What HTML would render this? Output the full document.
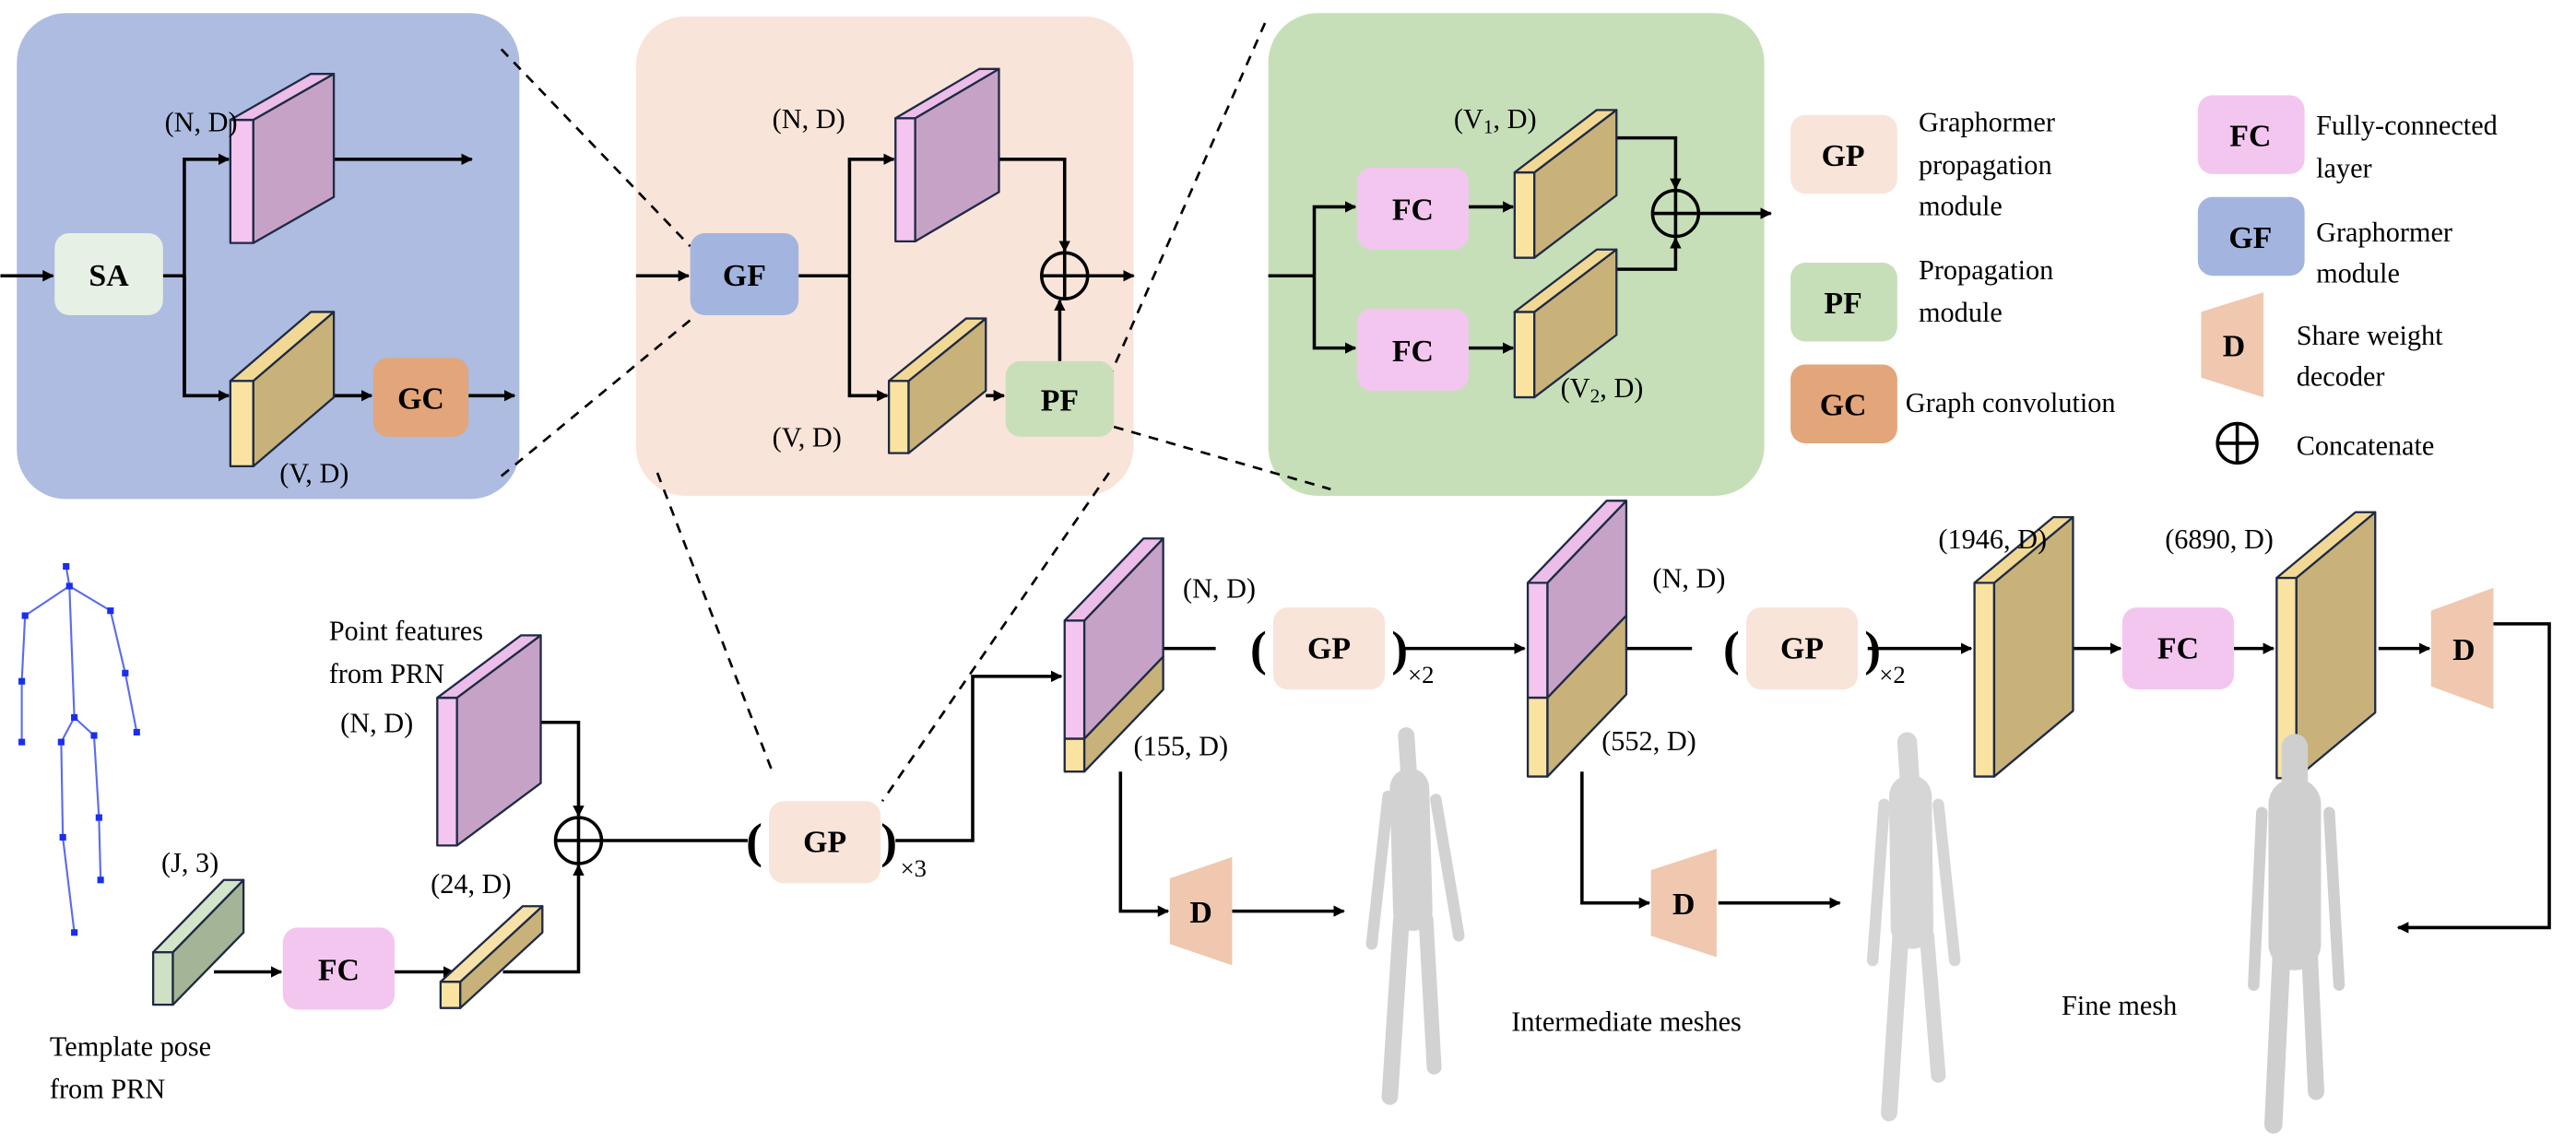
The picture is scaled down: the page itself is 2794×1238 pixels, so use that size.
<!DOCTYPE html>
<html><head><meta charset="utf-8"><style>html,body{margin:0;padding:0;background:#fff}svg{display:block}svg,text,tspan{font-family:"Liberation Serif","Times New Roman",Times,"DejaVu Serif","Noto Serif CJK SC",serif !important}</style></head>
<body>
<svg width="2794" height="1238" viewBox="0 0 1568 695" xmlns="http://www.w3.org/2000/svg">
<defs>
<marker id="a" viewBox="0 0 10 10" refX="9" refY="5" markerWidth="7" markerHeight="7" markerUnits="userSpaceOnUse" orient="auto"><path d="M0,0L10,5L0,10z" fill="#000"/></marker>
</defs>
<rect x="10" y="8" width="306" height="296" rx="30" fill="#adbce0"/>
<rect x="387" y="10" width="303" height="292" rx="30" fill="#f9e4d9"/>
<rect x="772" y="8" width="302" height="294" rx="30" fill="#c6dfb9"/>
<g stroke="#000" stroke-width="1.5" stroke-dasharray="6,5" fill="none">
<line x1="305" y1="30" x2="420" y2="150"/>
<line x1="305" y1="290" x2="420" y2="195"/>
<line x1="400" y1="288" x2="470" y2="470"/>
<line x1="675" y1="288" x2="537" y2="488"/>
<line x1="770" y1="14" x2="676" y2="228"/>
<line x1="678" y1="260" x2="810" y2="298"/>
</g>
<g stroke="#000" stroke-width="2" fill="none">
<line x1="0" y1="168" x2="32" y2="168" marker-end="url(#a)"/>
<polyline points="99,168 112,168"/>
<polyline points="112,241 112,97 139,97" marker-end="url(#a)"/>
<polyline points="112,168 112,241 139,241" marker-end="url(#a)"/>
<line x1="203" y1="97" x2="287" y2="97" marker-end="url(#a)"/>
<line x1="203" y1="241" x2="226" y2="241" marker-end="url(#a)"/>
<line x1="285" y1="241" x2="313" y2="241" marker-end="url(#a)"/>
<line x1="387" y1="168" x2="419" y2="168" marker-end="url(#a)"/>
<line x1="486" y1="168" x2="517" y2="168"/>
<polyline points="517,168 517,97 544,97" marker-end="url(#a)"/>
<polyline points="517,168 517,241 540,241" marker-end="url(#a)"/>
<polyline points="608,97 648,97 648,153" marker-end="url(#a)"/>
<line x1="662" y1="168" x2="690" y2="168" marker-end="url(#a)"/>
<line x1="600" y1="241" x2="611" y2="241" marker-end="url(#a)"/>
<line x1="645" y1="220" x2="645" y2="183" marker-end="url(#a)"/>
<line x1="772" y1="168" x2="800" y2="168"/>
<polyline points="800,168 800,126 825,126" marker-end="url(#a)"/>
<polyline points="800,168 800,212 825,212" marker-end="url(#a)"/>
<line x1="894" y1="126" x2="921" y2="126" marker-end="url(#a)"/>
<line x1="894" y1="212" x2="921" y2="212" marker-end="url(#a)"/>
<polyline points="984,84 1020,84 1020,115" marker-end="url(#a)"/>
<polyline points="984,164 1020,164 1020,145" marker-end="url(#a)"/>
<line x1="1034" y1="130" x2="1078" y2="130" marker-end="url(#a)"/>
<line x1="130" y1="592" x2="171" y2="592" marker-end="url(#a)"/>
<line x1="240" y1="592" x2="276" y2="592" marker-end="url(#a)"/>
<polyline points="306,592 352,592 352,527" marker-end="url(#a)"/>
<polyline points="329,440 352,440 352,497" marker-end="url(#a)"/>
<line x1="366" y1="512" x2="455" y2="512"/>
<polyline points="545,512 592,512 592,412 646,412" marker-end="url(#a)"/>
<line x1="708" y1="395" x2="740" y2="395"/>
<line x1="852" y1="395" x2="928" y2="395" marker-end="url(#a)"/>
<line x1="990" y1="395" x2="1030" y2="395"/>
<line x1="1137" y1="395" x2="1200" y2="395" marker-end="url(#a)"/>
<line x1="1262" y1="395" x2="1291" y2="395" marker-end="url(#a)"/>
<line x1="1360" y1="395" x2="1384" y2="395" marker-end="url(#a)"/>
<line x1="1448" y1="395" x2="1479" y2="395" marker-end="url(#a)"/>
<polyline points="1518,380 1552,380 1552,565 1460,565" marker-end="url(#a)"/>
<polyline points="682,470 682,555 711,555" marker-end="url(#a)"/>
<line x1="750" y1="555" x2="818" y2="555" marker-end="url(#a)"/>
<polyline points="963,470 963,550 1004,550" marker-end="url(#a)"/>
<line x1="1046" y1="550" x2="1120" y2="550" marker-end="url(#a)"/>
</g>
<g stroke="#000" stroke-width="2" fill="none">
<circle cx="648" cy="168" r="14"/><line x1="634" y1="168" x2="662" y2="168"/><line x1="648" y1="154" x2="648" y2="182"/>
<circle cx="1020" cy="130" r="14"/><line x1="1006" y1="130" x2="1034" y2="130"/><line x1="1020" y1="116" x2="1020" y2="144"/>
<circle cx="352" cy="512" r="14"/><line x1="338" y1="512" x2="366" y2="512"/><line x1="352" y1="498" x2="352" y2="526"/>
<circle cx="1362" cy="270" r="12"/><line x1="1350" y1="270" x2="1374" y2="270"/><line x1="1362" y1="258" x2="1362" y2="282"/>
</g>
<g font-weight="bold" font-size="19" text-anchor="middle">
<rect x="33" y="142" width="66" height="50" rx="9" fill="#e6f0e4"/><text x="66" y="174">SA</text>
<rect x="227" y="218" width="58" height="48" rx="9" fill="#e3a57a"/><text x="256" y="249">GC</text>
<rect x="420" y="142" width="66" height="50" rx="9" fill="#a3b4df"/><text x="453" y="174">GF</text>
<rect x="612" y="220" width="66" height="46" rx="9" fill="#c9dfba"/><text x="645" y="250">PF</text>
<rect x="826" y="102" width="68" height="50" rx="9" fill="#f3c6ef"/><text x="860" y="134">FC</text>
<rect x="826" y="188" width="68" height="50" rx="9" fill="#f3c6ef"/><text x="860" y="220">FC</text>
<rect x="1090" y="70" width="65" height="48" rx="9" fill="#f9e4d9"/><text x="1122" y="101">GP</text>
<rect x="1090" y="160" width="65" height="48" rx="9" fill="#c6dfb9"/><text x="1122" y="191">PF</text>
<rect x="1090" y="222" width="65" height="48" rx="9" fill="#e3a57a"/><text x="1122" y="253">GC</text>
<rect x="1338" y="58" width="65" height="48" rx="9" fill="#f3c6ef"/><text x="1370" y="89">FC</text>
<rect x="1338" y="120" width="65" height="48" rx="9" fill="#a3b4df"/><text x="1370" y="151">GF</text>
<polygon points="1340,190 1378,178 1378,242 1340,230" fill="#efc8af"/><text x="1360" y="217">D</text>
<rect x="172" y="565" width="68" height="50" rx="9" fill="#f3c6ef"/><text x="206" y="597">FC</text>
<rect x="468" y="488" width="68" height="50" rx="9" fill="#f9e4d9"/><text x="502" y="519">GP</text>
<rect x="775" y="370" width="68" height="50" rx="9" fill="#f9e4d9"/><text x="809" y="401">GP</text>
<rect x="1063" y="370" width="68" height="50" rx="9" fill="#f9e4d9"/><text x="1097" y="401">GP</text>
<rect x="1292" y="370" width="68" height="50" rx="9" fill="#f3c6ef"/><text x="1326" y="401">FC</text>
<polygon points="1480,372 1518,358 1518,432 1480,418" fill="#efc8af"/><text x="1500" y="402">D</text>
<polygon points="712,535 750,522 750,588 712,575" fill="#efc8af"/><text x="731" y="562">D</text>
<polygon points="1005,530 1045,517 1045,583 1005,570" fill="#efc8af"/><text x="1025" y="557">D</text>
</g>
<g font-size="30" font-weight="bold" text-anchor="middle">
<text x="459" y="522">(</text><text x="541" y="522">)</text>
<text x="766" y="405">(</text><text x="852" y="405">)</text>
<text x="1054" y="405">(</text><text x="1140" y="405">)</text>
</g>
<g stroke="#1f2a44" stroke-width="1.3" stroke-linejoin="round">
<rect x="140" y="73" width="14" height="75" fill="#f3c5ef"/><polygon points="154,73 203,45 203,120 154,148" fill="#c6a2c6"/><polygon points="140,73 189,45 203,45 154,73" fill="#ebbde8"/>
<rect x="140" y="232" width="14" height="52" fill="#fae3a0"/><polygon points="154,232 203,190 203,242 154,284" fill="#c8b27a"/><polygon points="140,232 189,190 203,190 154,232" fill="#f1d995"/>
<rect x="545" y="72" width="12" height="75" fill="#f3c5ef"/><polygon points="557,72 608,42 608,117 557,147" fill="#c6a2c6"/><polygon points="545,72 596,42 608,42 557,72" fill="#ebbde8"/>
<rect x="541" y="232" width="12" height="44" fill="#fae3a0"/><polygon points="553,232 600,194 600,238 553,276" fill="#c8b27a"/><polygon points="541,232 588,194 600,194 553,232" fill="#f1d995"/>
<rect x="922" y="105" width="12" height="52" fill="#fae3a0"/><polygon points="934,105 984,67 984,119 934,157" fill="#c8b27a"/><polygon points="922,105 972,67 984,67 934,105" fill="#f1d995"/>
<rect x="922" y="190" width="12" height="52" fill="#fae3a0"/><polygon points="934,190 984,152 984,204 934,242" fill="#c8b27a"/><polygon points="922,190 972,152 984,152 934,190" fill="#f1d995"/>
<rect x="266" y="425" width="12" height="90" fill="#f3c5ef"/><polygon points="278,425 329,387 329,477 278,515" fill="#c6a2c6"/><polygon points="266,425 317,387 329,387 278,425" fill="#ebbde8"/>
<rect x="93" y="580" width="12" height="32" fill="#cfe0c4"/><polygon points="105,580 148,536 148,568 105,612" fill="#a3b596"/><polygon points="93,580 136,536 148,536 105,580" fill="#d4e4c8"/>
<rect x="268" y="598" width="12" height="16" fill="#fae3a0"/><polygon points="280,598 330,552 330,568 280,614" fill="#c8b27a"/><polygon points="268,598 318,552 330,552 280,598" fill="#f6e1a8"/>
<rect x="648" y="378" width="12" height="72" fill="#f3c5ef"/><rect x="648" y="450" width="12" height="20" fill="#fae3a0"/>
<polygon points="660,378 708,328 708,400 660,450" fill="#c6a2c6"/><polygon points="660,450 708,400 708,420 660,470" fill="#c8b27a"/><polygon points="648,378 696,328 708,328 660,378" fill="#ebbde8"/>
<rect x="930" y="355" width="12" height="70" fill="#f3c5ef"/><rect x="930" y="425" width="12" height="48" fill="#fae3a0"/>
<polygon points="942,355 990,305 990,375 942,425" fill="#c6a2c6"/><polygon points="942,425 990,375 990,423 942,473" fill="#c8b27a"/><polygon points="930,355 978,305 990,305 942,355" fill="#ebbde8"/>
<rect x="1202" y="355" width="12" height="118" fill="#fae3a0"/><polygon points="1214,355 1262,315 1262,433 1214,473" fill="#c8b27a"/><polygon points="1202,355 1250,315 1262,315 1214,355" fill="#f1d995"/>
<rect x="1386" y="352" width="12" height="122" fill="#fae3a0"/><polygon points="1398,352 1446,312 1446,434 1398,474" fill="#c8b27a"/><polygon points="1386,352 1434,312 1446,312 1398,352" fill="#f1d995"/>
</g>
<g stroke="#5a6cf0" stroke-width="1.2" fill="none">
<polyline points="40,345 42,357 45,437"/>
<polyline points="15,375 42,357 67,372"/>
<polyline points="15,375 13,415 13,452"/>
<polyline points="67,372 76,410 83,446"/>
<polyline points="37,452 45,437 57,448"/>
<polyline points="37,452 38,510 45,568"/>
<polyline points="57,448 60,498 61,536"/>
</g>
<g fill="#1a2ef0">
<rect x="38" y="343" width="4" height="4"/><rect x="40" y="355" width="4" height="4"/><rect x="13" y="373" width="4" height="4"/><rect x="65" y="370" width="4" height="4"/><rect x="11" y="413" width="4" height="4"/><rect x="11" y="450" width="4" height="4"/><rect x="74" y="408" width="4" height="4"/><rect x="81" y="444" width="4" height="4"/><rect x="43" y="435" width="4" height="4"/><rect x="35" y="450" width="4" height="4"/><rect x="55" y="446" width="4" height="4"/><rect x="36" y="508" width="4" height="4"/><rect x="43" y="566" width="4" height="4"/><rect x="58" y="496" width="4" height="4"/><rect x="59" y="534" width="4" height="4"/>
</g>
<g stroke-linecap="round" stroke-linejoin="round" fill="none">
<g stroke="#d2d2d2">
<line x1="858" y1="480" x2="860" y2="555" stroke-width="24"/>
<line x1="845" y1="485" x2="835" y2="575" stroke-width="7"/>
<line x1="874" y1="487" x2="888" y2="570" stroke-width="7"/>
<line x1="853" y1="560" x2="846" y2="668" stroke-width="10"/>
<line x1="868" y1="560" x2="873" y2="650" stroke-width="9"/>
<line x1="856" y1="448" x2="858" y2="478" stroke-width="10"/>
</g>
<g stroke="#d6d6d6">
<line x1="1163" y1="485" x2="1164" y2="565" stroke-width="26"/>
<line x1="1147" y1="490" x2="1140" y2="585" stroke-width="7"/>
<line x1="1180" y1="490" x2="1190" y2="585" stroke-width="7"/>
<line x1="1157" y1="570" x2="1150" y2="678" stroke-width="10"/>
<line x1="1173" y1="570" x2="1180" y2="655" stroke-width="9"/>
<line x1="1161" y1="452" x2="1163" y2="482" stroke-width="12"/>
</g>
<g stroke="#cfcfcf">
<line x1="1397" y1="490" x2="1397" y2="575" stroke-width="32"/>
<line x1="1377" y1="495" x2="1372" y2="600" stroke-width="7"/>
<line x1="1418" y1="495" x2="1424" y2="600" stroke-width="7"/>
<line x1="1389" y1="580" x2="1384" y2="685" stroke-width="11"/>
<line x1="1406" y1="580" x2="1410" y2="665" stroke-width="10"/>
<line x1="1397" y1="455" x2="1397" y2="478" stroke-width="16"/>
</g>
</g>
<g font-size="17">
<text x="100" y="80">(N, D)</text>
<text x="170" y="294">(V, D)</text>
<text x="470" y="78">(N, D)</text>
<text x="470" y="272">(V, D)</text>
<text x="885" y="78">(V<tspan font-size="12" dy="3">1</tspan><tspan dy="-3">, D)</tspan></text>
<text x="950" y="242">(V<tspan font-size="12" dy="3">2</tspan><tspan dy="-3">, D)</tspan></text>
<text x="1168" y="80">Graphormer</text><text x="1168" y="106">propagation</text><text x="1168" y="131">module</text>
<text x="1168" y="170">Propagation</text><text x="1168" y="196">module</text>
<text x="1160" y="251">Graph convolution</text>
<text x="1410" y="82">Fully-connected</text><text x="1410" y="108">layer</text>
<text x="1410" y="147">Graphormer</text><text x="1410" y="172">module</text>
<text x="1398" y="210">Share weight</text><text x="1398" y="235">decoder</text>
<text x="1398" y="277">Concatenate</text>
<text x="200" y="390">Point features</text><text x="200" y="416">from PRN</text>
<text x="207" y="446">(N, D)</text>
<text x="98" y="531">(J, 3)</text>
<text x="262" y="544">(24, D)</text>
<text x="30" y="643">Template pose</text><text x="30" y="669">from PRN</text>
<text x="720" y="364">(N, D)</text>
<text x="690" y="460">(155, D)</text>
<text x="1006" y="358">(N, D)</text>
<text x="975" y="457">(552, D)</text>
<text x="1180" y="334">(1946, D)</text>
<text x="1318" y="334">(6890, D)</text>
<text x="920" y="628">Intermediate meshes</text>
<text x="1255" y="618">Fine mesh</text>
<text x="548" y="534" font-size="15">×3</text>
<text x="857" y="416" font-size="15">×2</text>
<text x="1144" y="416" font-size="15">×2</text>
</g>
</svg>
</body></html>
